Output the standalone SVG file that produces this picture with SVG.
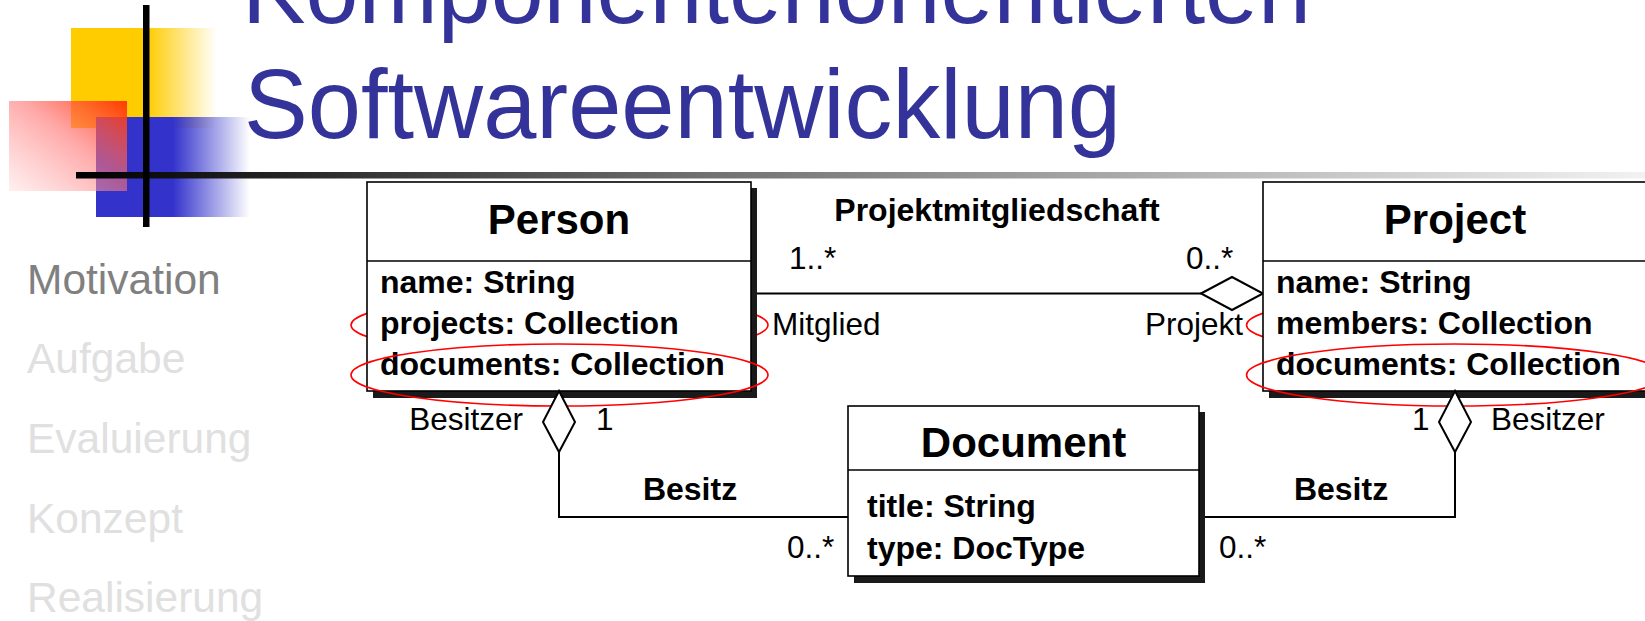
<svg xmlns="http://www.w3.org/2000/svg" width="1645" height="621" viewBox="0 0 1645 621">
<defs>
<linearGradient id="gYellow" x1="0" y1="0" x2="1" y2="0">
<stop offset="0" stop-color="#FFCC00"/>
<stop offset="0.52" stop-color="#FFCC00"/>
<stop offset="1" stop-color="#FFCC00" stop-opacity="0"/>
</linearGradient>
<linearGradient id="gBlue" x1="0" y1="0" x2="1" y2="0">
<stop offset="0" stop-color="#3333CC"/>
<stop offset="0.5" stop-color="#3333CC"/>
<stop offset="1" stop-color="#3333CC" stop-opacity="0"/>
</linearGradient>
<linearGradient id="gRed" x1="1" y1="0" x2="0" y2="1">
<stop offset="0" stop-color="#FF3300" stop-opacity="0.95"/>
<stop offset="0.45" stop-color="#FF7070" stop-opacity="0.6"/>
<stop offset="1" stop-color="#FFE0E0" stop-opacity="0.5"/>
</linearGradient>
<linearGradient id="gBar" x1="0" y1="0" x2="1" y2="0">
<stop offset="0" stop-color="#000000"/>
<stop offset="0.4" stop-color="#707070"/>
<stop offset="1" stop-color="#F2F2F2"/>
</linearGradient>
<style>
.title{font-family:"Liberation Sans",Arial,sans-serif;font-size:98px;fill:#333399}
.menu{font-family:"Liberation Sans",Arial,sans-serif;font-size:42.5px}
.cls{font-family:"Liberation Sans",Arial,sans-serif;font-size:42px;font-weight:bold;fill:#000;text-anchor:middle}
.attr{font-family:"Liberation Sans",Arial,sans-serif;font-size:32px;font-weight:bold;fill:#000}
.lbl{font-family:"Liberation Sans",Arial,sans-serif;font-size:31.5px;fill:#000}
.albl{font-family:"Liberation Sans",Arial,sans-serif;font-size:32px;font-weight:bold;fill:#000;text-anchor:middle}
.box{fill:#fff;stroke:#000;stroke-width:1.6}
.shadow{fill:#1a1a1a}
.div{stroke:#000;stroke-width:1.6}
.mark{fill:none;stroke:#FF0000;stroke-width:1.6}
.conn{fill:none;stroke:#000;stroke-width:2}
.dia{fill:#fff;stroke:#000;stroke-width:2}
</style>
</defs>
<rect width="1645" height="621" fill="#fff"/>

<g id="logo">
<rect x="71" y="28" width="146" height="100" fill="url(#gYellow)"/>
<rect x="96" y="117" width="154" height="100" fill="url(#gBlue)"/>
<rect x="9" y="101" width="118" height="90" fill="url(#gRed)"/>
<rect x="76" y="172" width="1569" height="6.5" fill="url(#gBar)"/>
<rect x="143" y="5" width="6.5" height="222" fill="#000"/>
</g>

<g id="title">
<text class="title" x="242" y="23" textLength="1069" lengthAdjust="spacingAndGlyphs">Komponentenorientierten</text>
<text class="title" x="244" y="138" textLength="877" lengthAdjust="spacingAndGlyphs">Softwareentwicklung</text>
</g>

<g id="menu">
<text class="menu" x="27" y="294" fill="#808080">Motivation</text>
<text class="menu" x="27" y="373" fill="#E0E0E0">Aufgabe</text>
<text class="menu" x="27" y="453" fill="#E0E0E0">Evaluierung</text>
<text class="menu" x="27" y="533" fill="#E0E0E0">Konzept</text>
<text class="menu" x="27" y="612" fill="#E0E0E0">Realisierung</text>
</g>

<g id="connectors">
<line class="conn" x1="757" y1="293.5" x2="1201" y2="293.5"/>
<polygon class="dia" points="1201,293.5 1232,277 1263,293.5 1232,310"/>
<polyline class="conn" points="559,452 559,517 848,517"/>
<polyline class="conn" points="1455,452 1455,517 1205,517"/>
<text class="albl" x="997" y="221">Projektmitgliedschaft</text>
<text class="lbl" x="789" y="269">1..*</text>
<text class="lbl" x="1186" y="269">0..*</text>
<text class="lbl" x="772" y="335">Mitglied</text>
<text class="lbl" x="1243" y="335" text-anchor="end">Projekt</text>
<text class="lbl" x="523" y="430" text-anchor="end">Besitzer</text>
<text class="lbl" x="596" y="430">1</text>
<text class="albl" x="690" y="500">Besitz</text>
<text class="lbl" x="787" y="558">0..*</text>
<text class="lbl" x="1412" y="430">1</text>
<text class="lbl" x="1491" y="430">Besitzer</text>
<text class="albl" x="1341" y="500">Besitz</text>
<text class="lbl" x="1219" y="558">0..*</text>
</g>

<g id="Person">
<ellipse class="mark" cx="559.5" cy="325" rx="208.5" ry="30"/>
<rect class="shadow" x="373" y="188" width="384" height="210"/>
<rect class="box" x="367" y="182" width="384" height="209"/>
<line class="div" x1="367" y1="261" x2="751" y2="261"/>
<text class="cls" x="559" y="234">Person</text>
<text class="attr" x="380" y="293">name: String</text>
<text class="attr" x="380" y="334">projects: Collection</text>
<text class="attr" x="380" y="375">documents: Collection</text>
<ellipse class="mark" cx="559.5" cy="375" rx="208.5" ry="31"/>
<polygon class="dia" points="559,391 543,422 559,452 575,422"/>
</g>

<g id="Project">
<ellipse class="mark" cx="1455" cy="325" rx="208.5" ry="30"/>
<rect class="shadow" x="1269" y="188" width="384" height="210"/>
<rect class="box" x="1263" y="182" width="384" height="209"/>
<line class="div" x1="1263" y1="261" x2="1647" y2="261"/>
<text class="cls" x="1455" y="234">Project</text>
<text class="attr" x="1276" y="293">name: String</text>
<text class="attr" x="1276" y="334">members: Collection</text>
<text class="attr" x="1276" y="375">documents: Collection</text>
<ellipse class="mark" cx="1455" cy="375" rx="208.5" ry="31"/>
<polygon class="dia" points="1455,391 1439,422 1455,452 1471,422"/>
</g>

<g id="Document">
<rect class="shadow" x="854" y="412" width="351" height="171"/>
<rect class="box" x="848" y="406" width="351" height="170"/>
<line class="div" x1="848" y1="470" x2="1199" y2="470"/>
<text class="cls" x="1023.5" y="457">Document</text>
<text class="attr" x="867" y="517">title: String</text>
<text class="attr" x="867" y="559">type: DocType</text>
</g>
</svg>
